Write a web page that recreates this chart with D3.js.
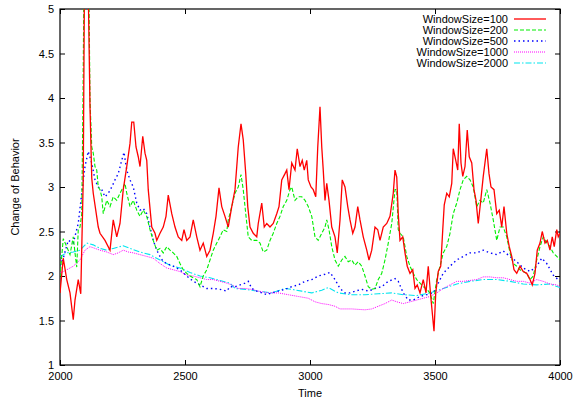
<!DOCTYPE html>
<html lang="en">
<head>
<meta charset="UTF-8">
<title>Change of Behavior</title>
<script src="https://d3js.org/d3.v7.min.js"></script>
<style>
  body { margin: 0; background: #fff; }
  text { font-family: "Liberation Sans", Arial, sans-serif; }
</style>
</head>
<body>
<script>
// [time, value]
var ws100 = [[2000,1.81],[2013,2.20],[2027,1.96],[2040,1.81],[2053,1.51],[2060,1.73],[2073,1.96],[2083,1.80],
  [2093,3.08],[2098,5.4],[2112,5.4],[2120,3.9],[2127,3.1],[2133,2.93],[2153,2.55],[2160,2.48],[2180,2.40],
  [2200,2.29],[2213,2.63],[2227,2.44],[2240,2.59],[2253,2.97],[2267,3.23],[2280,3.49],[2287,3.73],[2295,3.73],
  [2304,3.45],[2313,3.34],[2320,3.23],[2331,3.57],[2340,3.38],[2347,3.30],[2353,2.97],[2367,2.55],[2380,2.48],
  [2387,2.40],[2400,2.48],[2413,2.55],[2424,2.67],[2433,2.91],[2447,2.70],[2460,2.55],[2473,2.44],[2487,2.40],
  [2496,2.52],[2507,2.40],[2520,2.44],[2533,2.63],[2547,2.44],[2560,2.29],[2573,2.37],[2587,2.22],[2600,2.29],
  [2613,2.48],[2624,2.67],[2636,2.99],[2647,2.78],[2660,2.67],[2673,2.55],[2687,2.78],[2700,2.97],[2713,3.45],
  [2724,3.71],[2733,3.53],[2743,3.15],[2751,2.78],[2760,2.55],[2773,2.48],[2787,2.44],[2793,2.59],[2807,2.82],
  [2817,2.55],[2827,2.59],[2840,2.55],[2853,2.59],[2867,2.70],[2876,2.78],[2887,3.08],[2900,3.15],[2907,3.19],
  [2916,2.97],[2927,3.27],[2940,3.19],[2949,3.43],[2960,3.23],[2969,3.30],[2977,3.19],[2987,3.30],[2993,3.08],
  [3004,3.00],[3013,2.97],[3023,2.89],[3031,3.45],[3040,3.90],[3047,3.45],[3053,3.19],[3060,2.85],[3067,3.04],
  [3076,2.85],[3087,2.55],[3100,2.44],[3109,2.26],[3120,2.63],[3129,3.08],[3140,3.00],[3151,2.78],[3160,2.63],
  [3171,2.48],[3180,2.55],[3191,2.78],[3200,2.63],[3213,2.44],[3227,2.29],[3236,2.18],[3247,2.29],[3260,2.55],
  [3271,2.52],[3280,2.40],[3293,2.55],[3307,2.59],[3320,2.67],[3333,2.93],[3340,3.19],[3347,3.11],[3353,2.70],
  [3360,2.40],[3371,2.44],[3380,2.26],[3389,2.11],[3400,2.03],[3411,2.07],[3420,1.86],[3429,1.90],[3440,1.81],
  [3453,1.96],[3464,1.81],[3473,2.11],[3483,1.77],[3496,1.38],[3503,1.81],[3513,2.05],[3523,2.11],[3531,2.52],
  [3537,2.80],[3547,2.93],[3557,2.89],[3567,3.04],[3573,3.43],[3583,3.30],[3591,3.19],[3597,3.71],[3604,3.27],
  [3611,3.12],[3620,3.23],[3629,3.64],[3637,3.34],[3647,3.27],[3656,2.97],[3664,2.85],[3673,2.59],[3683,2.85],
  [3693,3.12],[3707,3.43],[3716,3.15],[3724,3.00],[3736,2.97],[3747,2.70],[3757,2.74],[3767,2.55],[3776,2.78],
  [3787,2.48],[3797,2.33],[3807,2.22],[3816,2.07],[3827,2.03],[3840,2.11],[3853,2.05],[3867,2.03],[3880,1.96],
  [3889,1.90],[3900,2.03],[3909,2.29],[3920,2.37],[3929,2.50],[3940,2.37],[3949,2.40],[3960,2.29],[3969,2.44],
  [3977,2.33],[3987,2.52],[3993,2.44],[4000,2.48]];

var ws200 = [[2000,1.99],[2013,2.42],[2027,2.33],[2040,2.24],[2053,2.44],[2060,2.26],[2067,2.10],[2073,2.52],
  [2080,2.55],[2087,2.70],[2092,4.0],[2096,5.4],[2115,5.4],[2120,3.98],[2127,3.45],[2133,3.38],[2140,3.23],
  [2147,3.19],[2153,3.00],[2160,2.97],[2167,2.89],[2173,2.70],[2187,2.85],[2200,2.78],[2213,2.89],[2227,2.85],
  [2240,2.93],[2253,3.00],[2260,3.04],[2267,2.93],[2280,2.78],[2293,2.85],[2307,2.74],[2320,2.67],[2333,2.74],
  [2347,2.67],[2360,2.52],[2373,2.40],[2387,2.29],[2400,2.31],[2413,2.26],[2427,2.33],[2440,2.29],[2453,2.26],
  [2467,2.22],[2480,2.14],[2493,2.07],[2507,2.03],[2520,2.00],[2533,1.98],[2547,1.96],[2560,1.88],[2573,2.00],
  [2587,2.07],[2600,2.18],[2613,2.29],[2627,2.37],[2640,2.44],[2653,2.52],[2667,2.50],[2673,2.63],[2687,2.78],
  [2700,2.93],[2713,3.00],[2724,3.14],[2733,2.97],[2743,2.70],[2753,2.44],[2767,2.40],[2787,2.40],[2800,2.37],
  [2813,2.27],[2827,2.29],[2840,2.40],[2853,2.48],[2867,2.59],[2880,2.67],[2893,2.78],[2907,2.85],[2920,2.97],
  [2927,3.00],[2940,2.85],[2953,2.89],[2967,2.89],[2980,2.85],[2993,2.78],[3007,2.67],[3020,2.44],[3033,2.40],
  [3047,2.48],[3060,2.55],[3067,2.63],[3076,2.52],[3087,2.33],[3100,2.18],[3113,2.11],[3127,2.18],[3140,2.22],
  [3153,2.16],[3167,2.18],[3180,2.12],[3193,2.16],[3207,2.11],[3220,2.00],[3233,1.88],[3247,1.85],[3260,1.86],
  [3273,1.96],[3287,2.03],[3300,2.18],[3313,2.37],[3327,2.59],[3340,2.97],[3347,2.97],[3353,2.52],[3360,2.48],
  [3373,2.44],[3387,2.22],[3400,2.11],[3413,2.03],[3427,1.96],[3440,1.92],[3453,1.88],[3467,1.85],[3480,1.81],
  [3493,1.69],[3507,1.96],[3520,2.11],[3533,2.26],[3547,2.33],[3560,2.48],[3573,2.70],[3587,2.82],[3600,2.97],
  [3613,3.08],[3627,3.12],[3640,3.08],[3653,3.00],[3667,2.78],[3680,2.85],[3693,2.82],[3707,2.97],[3720,2.82],
  [3733,2.63],[3747,2.40],[3760,2.55],[3773,2.55],[3787,2.44],[3800,2.26],[3813,2.14],[3827,2.11],[3840,2.07],
  [3853,2.05],[3867,2.03],[3880,1.96],[3893,2.00],[3907,2.18],[3920,2.33],[3933,2.44],[3947,2.37],[3960,2.33],
  [3973,2.26],[3987,2.22],[4000,2.18]];

var ws500 = [[2000,2.12],[2013,2.20],[2033,2.40],[2053,2.37],[2073,2.59],[2087,2.93],[2100,3.23],[2113,3.40],
  [2127,3.27],[2140,3.08],[2153,3.00],[2167,2.97],[2180,2.89],[2193,2.93],[2207,3.00],[2220,3.08],[2233,3.15],
  [2247,3.30],[2256,3.39],[2267,3.19],[2280,3.08],[2293,3.00],[2307,2.82],[2320,2.74],[2333,2.76],[2347,2.70],
  [2360,2.55],[2373,2.40],[2387,2.29],[2400,2.22],[2413,2.16],[2427,2.14],[2453,2.11],[2480,2.07],[2507,2.00],
  [2533,1.94],[2560,1.90],[2587,1.86],[2613,1.86],[2640,1.85],[2667,1.83],[2680,1.88],[2700,1.88],[2720,1.90],
  [2740,1.92],[2753,1.94],[2767,1.86],[2787,1.83],[2807,1.81],[2827,1.79],[2847,1.81],[2873,1.83],[2900,1.85],
  [2927,1.88],[2953,1.90],[2980,1.94],[3007,1.96],[3033,2.00],[3060,2.02],[3080,2.04],[3100,1.96],[3120,1.86],
  [3140,1.81],[3160,1.81],[3180,1.83],[3207,1.85],[3233,1.83],[3260,1.86],[3287,1.88],[3313,1.94],[3340,1.97],
  [3353,1.94],[3373,1.81],[3393,1.73],[3413,1.73],[3440,1.77],[3467,1.79],[3493,1.81],[3513,1.92],[3533,2.03],
  [3560,2.11],[3587,2.18],[3613,2.22],[3640,2.26],[3667,2.26],[3693,2.29],[3720,2.26],[3747,2.24],[3773,2.28],
  [3800,2.22],[3827,2.16],[3853,2.09],[3880,2.05],[3907,2.11],[3927,2.20],[3947,2.14],[3973,2.01],[4000,1.94]];

var ws1000 = [[2000,2.03],[2027,2.07],[2053,2.11],[2080,2.18],[2100,2.29],[2120,2.33],[2140,2.31],[2160,2.29],
  [2187,2.27],[2213,2.24],[2233,2.26],[2253,2.29],[2273,2.27],[2293,2.26],[2320,2.24],[2347,2.22],[2373,2.20],
  [2400,2.14],[2427,2.09],[2453,2.07],[2480,2.05],[2507,2.01],[2533,2.00],[2560,1.98],[2587,1.96],[2613,1.96],
  [2640,1.94],[2667,1.92],[2687,1.90],[2713,1.86],[2740,1.86],[2767,1.85],[2793,1.83],[2833,1.81],[2873,1.81],
  [2913,1.79],[2953,1.77],[2993,1.75],[3020,1.71],[3047,1.69],[3073,1.68],[3100,1.66],[3120,1.63],[3167,1.63],
  [3220,1.62],[3247,1.63],[3273,1.66],[3300,1.69],[3327,1.73],[3347,1.71],[3373,1.69],[3400,1.71],[3427,1.73],
  [3453,1.75],[3480,1.77],[3507,1.81],[3533,1.86],[3560,1.90],[3587,1.94],[3613,1.94],[3640,1.95],[3667,1.96],
  [3693,1.99],[3720,1.99],[3747,1.98],[3773,1.98],[3800,1.96],[3827,1.94],[3853,1.94],[3880,1.92],[3907,1.96],
  [3933,1.94],[3960,1.91],[3987,1.90],[4000,1.88]];

var ws2000 = [[2000,2.22],[2027,2.26],[2053,2.27],[2080,2.29],[2107,2.37],[2133,2.35],[2160,2.31],[2187,2.29],
  [2213,2.31],[2253,2.34],[2280,2.31],[2320,2.27],[2360,2.24],[2400,2.18],[2440,2.12],[2480,2.09],[2520,2.04],
  [2560,2.00],[2600,1.98],[2640,1.95],[2680,1.92],[2700,1.86],[2740,1.85],[2793,1.83],[2847,1.81],[2900,1.86],
  [2927,1.85],[2967,1.83],[3007,1.81],[3047,1.84],[3073,1.87],[3113,1.81],[3167,1.79],[3220,1.79],[3273,1.80],
  [3327,1.81],[3373,1.79],[3427,1.78],[3480,1.81],[3533,1.86],[3587,1.91],[3640,1.94],[3693,1.96],[3747,1.96],
  [3800,1.94],[3853,1.91],[3907,1.90],[3960,1.91],[4000,1.87]];

var seriesNames = ["WindowSize=100", "WindowSize=200", "WindowSize=500", "WindowSize=1000", "WindowSize=2000"];
var seriesData = [ws100, ws200, ws500, ws1000, ws2000];
var xTicks = [2000, 2500, 3000, 3500, 4000];
var yTicks = [1, 1.5, 2, 2.5, 3, 3.5, 4, 4.5, 5];

var colors = ["#ff0000", "#00ee00", "#0000ff", "#ff00ff", "#00e5ee"];
var dashes = [null, "4,2", "1.5,3", "1,1", "6,2,1.5,2"];
var widths = [1.3, 1.1, 1.4, 1, 1.1];

var width = 573, height = 400;
var plotLeft = 60, plotRight = 560, plotTop = 9, plotBottom = 365;

var x = d3.scaleLinear().domain([2000, 4000]).range([plotLeft, plotRight]);
var y = d3.scaleLinear().domain([1, 5]).range([plotBottom, plotTop]);

var svg = d3.select("body").append("svg")
    .attr("width", width)
    .attr("height", height);

svg.append("defs").append("clipPath").attr("id", "plotclip")
    .append("rect")
    .attr("x", plotLeft).attr("y", plotTop)
    .attr("width", plotRight - plotLeft).attr("height", plotBottom - plotTop);

// axes with inward ticks on all four sides
var fontSize = "11px";
svg.append("g").attr("transform", "translate(0," + plotBottom + ")")
    .call(d3.axisBottom(x).tickValues(xTicks).tickSize(-5).tickPadding(7).tickFormat(d3.format("d")));
svg.append("g").attr("transform", "translate(" + plotLeft + ",0)")
    .call(d3.axisLeft(y).tickValues(yTicks).tickSize(-5).tickPadding(6).tickFormat(d3.format("~g")));
svg.append("g").attr("transform", "translate(0," + plotTop + ")")
    .call(d3.axisTop(x).tickValues(xTicks).tickSize(-5).tickFormat(""));
svg.append("g").attr("transform", "translate(" + plotRight + ",0)")
    .call(d3.axisRight(y).tickValues(yTicks).tickSize(-5).tickFormat(""));

svg.selectAll(".domain").remove();
svg.selectAll(".tick line").attr("stroke", "#000");
svg.selectAll(".tick text").attr("fill", "#000").style("font-size", fontSize);

svg.append("rect")
    .attr("x", plotLeft).attr("y", plotTop)
    .attr("width", plotRight - plotLeft).attr("height", plotBottom - plotTop)
    .attr("fill", "none").attr("stroke", "#000").attr("stroke-width", 1.2);

svg.append("text")
    .attr("x", (plotLeft + plotRight) / 2).attr("y", 397)
    .attr("text-anchor", "middle")
    .style("font-size", fontSize)
    .text("Time");

svg.append("text")
    .attr("transform", "translate(19," + ((plotTop + plotBottom) / 2) + ") rotate(-90)")
    .attr("text-anchor", "middle")
    .style("font-size", fontSize)
    .text("Change of Behavior");

var line = d3.line()
    .x(function (d) { return x(d[0]); })
    .y(function (d) { return y(d[1]); });

var plot = svg.append("g").attr("clip-path", "url(#plotclip)");

// draw back to front so the red series ends on top
for (var i = seriesData.length - 1; i >= 0; i--) {
    plot.append("path")
        .datum(seriesData[i])
        .attr("d", line)
        .attr("fill", "none")
        .attr("stroke", colors[i])
        .attr("stroke-width", widths[i])
        .attr("stroke-dasharray", dashes[i]);
}

// legend
var legend = svg.append("g");
seriesNames.forEach(function (name, i) {
    var ly = 19 + i * 11;
    legend.append("text")
        .attr("x", 508).attr("y", ly + 3.8)
        .attr("text-anchor", "end")
        .style("font-size", fontSize)
        .text(name);
    legend.append("line")
        .attr("x1", 514).attr("x2", 546)
        .attr("y1", ly).attr("y2", ly)
        .attr("stroke", colors[i])
        .attr("stroke-width", widths[i])
        .attr("stroke-dasharray", dashes[i]);
});
</script>
</body>
</html>
